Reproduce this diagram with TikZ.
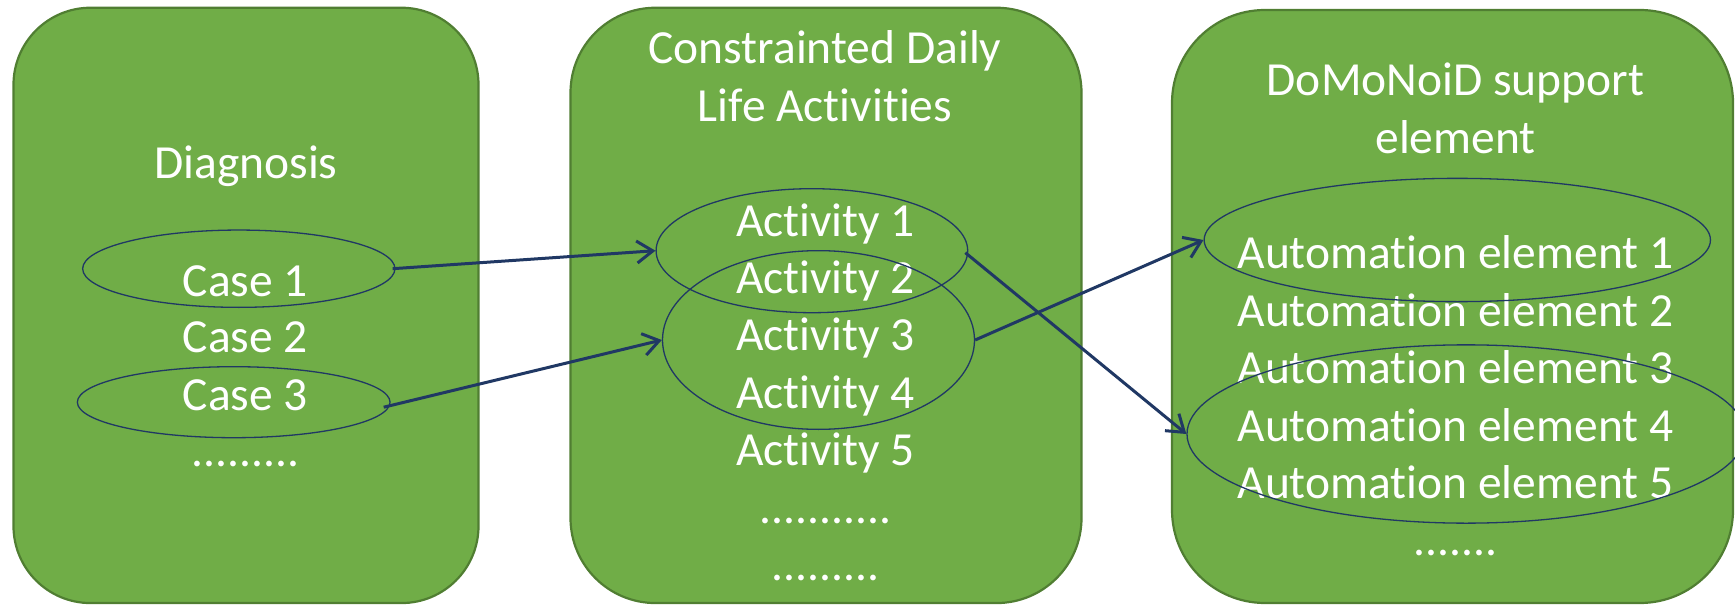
\documentclass[tikz,border=0pt]{standalone}
\usepackage{fontspec}
\setmainfont{Carlito}[RawFeature={-liga}]
\usetikzlibrary{shapes.geometric,arrows.meta}
\definecolor{boxfill}{HTML}{70AD47}
\definecolor{boxline}{HTML}{507E32}
\definecolor{navy}{HTML}{203864}
\tikzset{
  panel/.style={draw=boxline, fill=boxfill, line width=2.2pt, inner sep=0pt},
  txt/.style={text=white, anchor=base, inner sep=0pt, font=\fontsize{47.5}{57}\selectfont},
  oval/.style={ellipse, draw=navy, line width=1.3pt, inner sep=0pt},
  link/.style={draw=navy, line width=3pt, -{Straight Barb[length=16pt,width=22pt]}}
}
\begin{document}
\begin{tikzpicture}[x=1pt,y=-1pt]
\useasboundingbox (0,0) rectangle (1735,607);
% panels
\node[panel, minimum width=465pt, minimum height=595.3pt, rounded corners=77pt] (B1) at (246,305.4) {};
\node[panel, minimum width=511pt, minimum height=595.3pt, rounded corners=85pt] (B2) at (826,305.4) {};
\node[panel, minimum width=561pt, minimum height=593pt, rounded corners=93pt] (B3) at (1452.5,306.5) {};
% texts panel 1
\node[txt] (diag) at (246,178.4) {Diagnosis};
\node[txt] (c1) at (245.3,296) {Case 1};
\node[txt] (c2) at (245.3,352.7) {Case 2};
\node[txt] (c3) at (245.3,410) {Case 3};
\node[txt] (cd) at (245.3,466.7) {.........};
% texts panel 2
\node[txt] (t2a) at (825,64) {Constrainted Daily};
\node[txt] (t2b) at (825,121.7) {Life Activities};
\node[txt] (a1) at (825.5,236) {Activity 1};
\node[txt] (a2) at (825.5,293.3) {Activity 2};
\node[txt] (a3) at (825.5,350.6) {Activity 3};
\node[txt] (a4) at (825.5,408) {Activity 4};
\node[txt] (a5) at (825.5,465.5) {Activity 5};
\node[txt] (ad1) at (825.5,523) {...........};
\node[txt] (ad2) at (825.5,580.3) {.........};
% texts panel 3
\node[txt] (t3a) at (1455.5,96) {DoMoNoiD support};
\node[txt] (t3b) at (1455.5,153.5) {element};
\node[txt] (e1) at (1455.4,268.3) {Automation element 1};
\node[txt] (e2) at (1455.4,326) {Automation element 2};
\node[txt] (e3) at (1455.4,383.3) {Automation element 3};
\node[txt] (e4) at (1455.4,441) {Automation element 4};
\node[txt] (e5) at (1455.4,498.3) {Automation element 5};
\node[txt] (ed) at (1455.4,555.5) {.......};
% ovals
\node[oval, minimum width=312.3pt, minimum height=77.3pt] (O1) at (238.8,268.7) {};
\node[oval, minimum width=312.7pt, minimum height=71pt] (O3) at (233.7,402.2) {};
\node[oval, minimum width=311.6pt, minimum height=124pt] (OA1) at (811.9,250.7) {};
\node[oval, minimum width=312pt, minimum height=178.7pt] (OA2) at (818.5,340) {};
\node[oval, minimum width=506.3pt, minimum height=123.3pt] (OE1) at (1457.3,240) {};
\node[oval, minimum width=558pt, minimum height=178.3pt] (OE2) at (1466,434) {};
% connectors
\draw[link] ([xshift=-3pt]O1.east) -- (OA1.west);
\draw[link] ([xshift=-7pt,yshift=-5pt]O3.east) -- (OA2.west);
\draw[link] ([xshift=-3pt,yshift=-2pt]OA1.east) -- (OE2.west);
\draw[link] (OA2.east) -- (OE1.west);
\end{tikzpicture}
\end{document}
